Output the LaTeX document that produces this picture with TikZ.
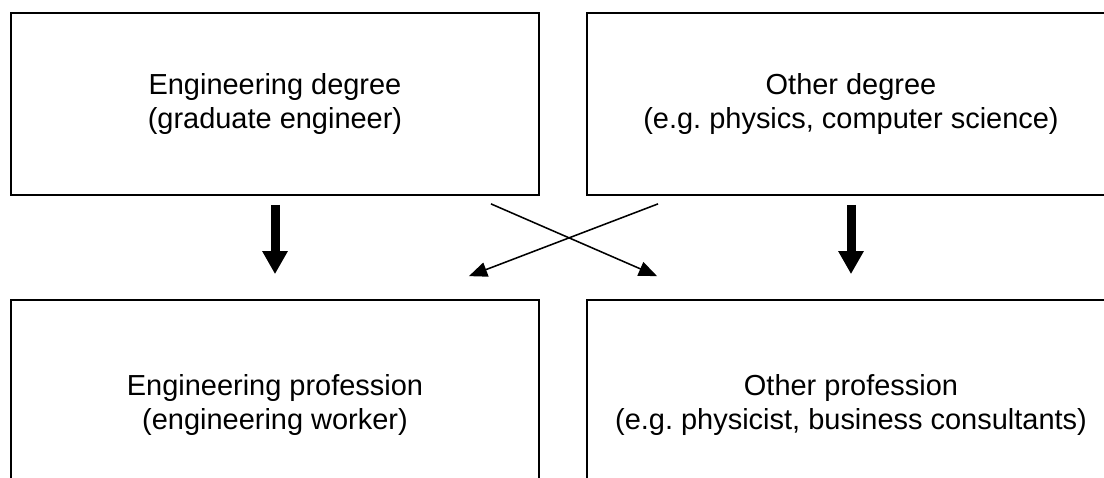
\documentclass[tikz,border=0pt]{standalone}
\usepackage{fontspec}
\setmainfont{Liberation Sans}
\usetikzlibrary{arrows.meta}
\frenchspacing

\begin{document}
\begin{tikzpicture}[x=0.025cm, y=-0.025cm,
    career/.style={draw, line width=1.2pt, minimum width=13.2cm, minimum height=4.55cm,
        align=center, inner sep=0pt, font=\fontsize{20.6}{23.7}\selectfont},
    bigarrow/.style={line width=6.4pt, -{Triangle[width=17.1pt, length=16.4pt]}},
    crossarrow/.style={line width=1.1pt, -{Triangle[width=10.5pt, length=13pt]}}]
    \useasboundingbox (0,0) rectangle (1104,478);
    \clip (0,0) rectangle (1104,478);

    \node[career] (engdeg) at (275,104) {Engineering degree\\(graduate engineer)};
    \node[career] (othdeg) at (851,104) {Other degree\\(e.g. physics, computer science)};
    \node[career, minimum height=5.25cm] (engjob) at (275,405) {Engineering profession\\(engineering worker)};
    \node[career, minimum height=5.25cm] (othjob) at (851,405) {Other profession\\(e.g. physicist, business consultants)};

    % straight paths
    \draw[bigarrow] ([shift={(0,9)}]engdeg.south) -- ([shift={(0,-25)}]engjob.north);
    \draw[bigarrow] ([shift={(0,9)}]othdeg.south) -- ([shift={(0,-25)}]othjob.north);

    % switching paths
    \draw[crossarrow] ([shift={(-49,8)}]engdeg.south east) -- ([shift={(71,-23)}]othjob.north west);
    \draw[crossarrow] ([shift={(72,8)}]othdeg.south west) -- ([shift={(-71,-23)}]engjob.north east);
\end{tikzpicture}
\end{document}
